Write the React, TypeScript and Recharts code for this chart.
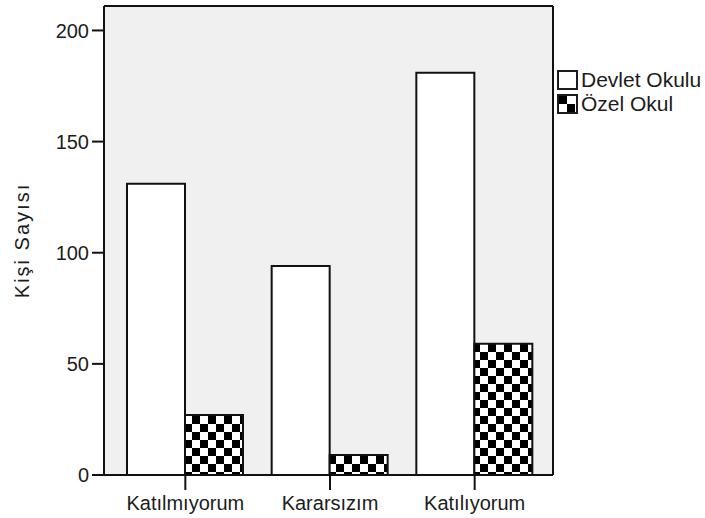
import React from 'react'
import { BarChart, Bar, XAxis, YAxis, CartesianGrid, Legend } from 'recharts'

const categories = ['Katılmıyorum', 'Kararsızım', 'Katılıyorum']
const devletOkulu = [131, 94, 181]
const ozelOkul = [27, 9, 59]
const yTicks = [0, 50, 100, 150, 200]
const yMax = 211
const seriesNames = ['Devlet Okulu', 'Özel Okul']

const data = categories.map((name, i) => ({
  name,
  devlet: devletOkulu[i],
  ozel: ozelOkul[i]
}))

const FONT = '"Liberation Sans", Arial, sans-serif'
const INK = '#1c1c1c'
const LINE = { stroke: '#111', strokeWidth: 2 }

// legend swatch, drawn as small svg so the checker matches the bars
const Swatch = ({ checker }: { checker: boolean }) => (
  <svg width={21} height={20} style={{ display: 'block' }}>
    <defs>
      <pattern id="legendChecker" width={18} height={18} patternUnits="userSpaceOnUse">
        <rect width={18} height={18} fill="#fff" />
        <rect x={1} y={1} width={9} height={9} fill="#000" />
        <rect x={10} y={10} width={9} height={9} fill="#000" />
      </pattern>
    </defs>
    <rect x={1} y={1} width={19} height={18} fill={checker ? 'url(#legendChecker)' : '#fff'} stroke={INK} strokeWidth={2} />
  </svg>
)

const LegendBox = () => (
  <div style={{ fontFamily: FONT, fontSize: 21, color: INK }}>
    {seriesNames.map((n, i) => (
      <div key={n} style={{ display: 'flex', alignItems: 'center', height: 24, gap: 3 }}>
        <Swatch checker={i === 1} />
        <span>{n}</span>
      </div>
    ))}
  </div>
)

// frame of the plot area: grid lines only at its edges
const frameH = ({ offset }: any) => [offset.top, offset.top + offset.height]
const frameV = ({ offset }: any) => [offset.left, offset.left + offset.width]

export default function App() {
  return (
    <div style={{ position: 'absolute', left: 0, top: 0, width: 705, height: 518, background: '#fff' }}>
      <BarChart
        width={705}
        height={518}
        data={data}
        margin={{ top: 6, right: 152, bottom: 0, left: 0 }}
        barGap={0}
        barSize={58}
      >
        <defs>
          <pattern id="checker" width={16} height={16} patternUnits="userSpaceOnUse">
            <rect width={16} height={16} fill="#fff" />
            <rect x={0} y={0} width={8} height={8} fill="#000" />
            <rect x={8} y={8} width={8} height={8} fill="#000" />
          </pattern>
        </defs>
        <CartesianGrid
          fill="#f0f0f0"
          stroke="#111"
          strokeWidth={2}
          horizontalCoordinatesGenerator={frameH}
          verticalCoordinatesGenerator={frameV}
        />
        <XAxis
          dataKey="name"
          height={43}
          padding={{ left: 9, right: 6 }}
          axisLine={LINE}
          tickLine={LINE}
          tickSize={15}
          tickMargin={6}
          tick={{ fontFamily: FONT, fontSize: 20, fill: INK }}
        />
        <YAxis
          width={104}
          domain={[0, yMax]}
          ticks={yTicks}
          interval={0}
          axisLine={LINE}
          tickLine={LINE}
          tickSize={12}
          tickMargin={3}
          tick={{ fontFamily: FONT, fontSize: 20, fill: INK }}
          label={{
            value: 'Kişi Sayısı',
            angle: -90,
            position: 'insideLeft',
            offset: 22,
            style: { textAnchor: 'middle', fontFamily: FONT, fontSize: 20, fill: INK, letterSpacing: 2 }
          }}
        />
        <Legend
          layout="horizontal"
          align="center"
          verticalAlign="middle"
          content={() => <LegendBox />}
          wrapperStyle={{ left: 557, top: 68, width: 148 }}
        />
        <Bar dataKey="devlet" name={seriesNames[0]} fill="#fff" stroke="#111" strokeWidth={2} isAnimationActive={false} />
        <Bar dataKey="ozel" name={seriesNames[1]} fill="url(#checker)" stroke="#111" strokeWidth={2} isAnimationActive={false} />
      </BarChart>
    </div>
  )
}
